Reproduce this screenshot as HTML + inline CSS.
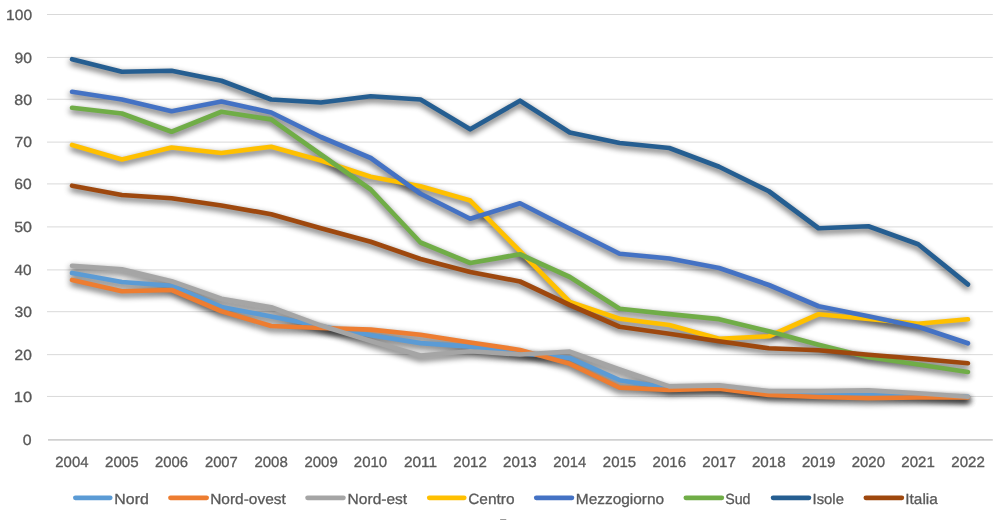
<!DOCTYPE html>
<html lang="it"><head><meta charset="utf-8"><title>Grafico</title>
<style>
html,body{margin:0;padding:0;background:#fff;}
body{width:1004px;height:520px;overflow:hidden;}
svg{display:block;}
text{font-family:"Liberation Sans",sans-serif;font-size:14.7px;fill:#595959;stroke:#595959;stroke-width:0.3px;text-rendering:geometricPrecision;}
</style></head><body>
<svg width="1004" height="520" viewBox="0 0 1004 520">
<defs>
<filter id="sh" filterUnits="userSpaceOnUse" x="0" y="0" width="1004" height="520" color-interpolation-filters="sRGB">
<feGaussianBlur in="SourceAlpha" stdDeviation="3.4" result="b"/>
<feOffset in="b" dx="0" dy="3" result="o"/>
<feComponentTransfer in="o" result="s"><feFuncA type="linear" slope="0.68"/></feComponentTransfer>
</filter>
</defs>
<rect width="1004" height="520" fill="#ffffff"/>
<g stroke="#D9D9D9" stroke-width="1">
<line x1="47" x2="992.8" y1="14.5" y2="14.5"/>
<line x1="47" x2="992.8" y1="57.45" y2="57.45"/>
<line x1="47" x2="992.8" y1="99.25" y2="99.25"/>
<line x1="47" x2="992.8" y1="142.1" y2="142.1"/>
<line x1="47" x2="992.8" y1="183.9" y2="183.9"/>
<line x1="47" x2="992.8" y1="226.9" y2="226.9"/>
<line x1="47" x2="992.8" y1="269.9" y2="269.9"/>
<line x1="47" x2="992.8" y1="311.7" y2="311.7"/>
<line x1="47" x2="992.8" y1="354.65" y2="354.65"/>
<line x1="47" x2="992.8" y1="396.45" y2="396.45"/>
</g>
<line x1="48" x2="992.8" y1="439.9" y2="439.9" stroke="#D0D0D0" stroke-width="1.8"/>
<g>
<text x="6.08" y="19.75" textLength="25.96" lengthAdjust="spacingAndGlyphs">100</text>
<text x="14.54" y="62.70" textLength="17.50" lengthAdjust="spacingAndGlyphs">90</text>
<text x="14.33" y="104.50" textLength="17.78" lengthAdjust="spacingAndGlyphs">80</text>
<text x="14.51" y="147.35" textLength="17.53" lengthAdjust="spacingAndGlyphs">70</text>
<text x="14.37" y="189.15" textLength="17.37" lengthAdjust="spacingAndGlyphs">60</text>
<text x="14.19" y="232.15" textLength="17.85" lengthAdjust="spacingAndGlyphs">50</text>
<text x="14.56" y="275.15" textLength="17.09" lengthAdjust="spacingAndGlyphs">40</text>
<text x="14.52" y="316.95" textLength="17.44" lengthAdjust="spacingAndGlyphs">30</text>
<text x="14.50" y="359.90" textLength="17.29" lengthAdjust="spacingAndGlyphs">20</text>
<text x="13.86" y="401.70" textLength="18.26" lengthAdjust="spacingAndGlyphs">10</text>
<text x="22.86" y="444.75" textLength="8.83" lengthAdjust="spacingAndGlyphs">0</text>
</g>
<g>
<text x="55.34" y="466.55" textLength="33.19" lengthAdjust="spacingAndGlyphs">2004</text>
<text x="105.02" y="466.55" textLength="33.69" lengthAdjust="spacingAndGlyphs">2005</text>
<text x="155.07" y="466.55" textLength="33.04" lengthAdjust="spacingAndGlyphs">2006</text>
<text x="204.90" y="466.55" textLength="32.98" lengthAdjust="spacingAndGlyphs">2007</text>
<text x="254.43" y="466.55" textLength="33.40" lengthAdjust="spacingAndGlyphs">2008</text>
<text x="304.44" y="466.55" textLength="33.29" lengthAdjust="spacingAndGlyphs">2009</text>
<text x="353.83" y="466.55" textLength="33.34" lengthAdjust="spacingAndGlyphs">2010</text>
<text x="403.93" y="466.55" textLength="33.24" lengthAdjust="spacingAndGlyphs">2011</text>
<text x="453.38" y="466.55" textLength="33.47" lengthAdjust="spacingAndGlyphs">2012</text>
<text x="503.13" y="466.55" textLength="33.60" lengthAdjust="spacingAndGlyphs">2013</text>
<text x="553.22" y="466.55" textLength="33.01" lengthAdjust="spacingAndGlyphs">2014</text>
<text x="602.82" y="466.55" textLength="33.40" lengthAdjust="spacingAndGlyphs">2015</text>
<text x="652.58" y="466.55" textLength="33.43" lengthAdjust="spacingAndGlyphs">2016</text>
<text x="702.37" y="466.55" textLength="33.54" lengthAdjust="spacingAndGlyphs">2017</text>
<text x="751.92" y="466.55" textLength="33.80" lengthAdjust="spacingAndGlyphs">2018</text>
<text x="802.00" y="466.55" textLength="33.37" lengthAdjust="spacingAndGlyphs">2019</text>
<text x="851.69" y="466.55" textLength="33.29" lengthAdjust="spacingAndGlyphs">2020</text>
<text x="901.32" y="466.55" textLength="33.44" lengthAdjust="spacingAndGlyphs">2021</text>
<text x="951.25" y="466.55" textLength="33.57" lengthAdjust="spacingAndGlyphs">2022</text>
</g>
<g fill="none" stroke-width="4.7" stroke-linecap="round" stroke-linejoin="round">
<path d="M72.1 273.00 L121.9 282.00 L171.6 285.75 L221.4 307.00 L271.2 316.50 L320.9 326.25 L370.7 335.25 L420.5 343.10 L470.2 346.60 L520.0 353.25 L569.8 358.00 L619.6 380.20 L669.3 388.00 L719.1 387.00 L768.9 393.00 L818.6 393.70 L868.4 394.00 L918.2 395.50 L967.9 396.90" stroke="#000" filter="url(#sh)"/>
<path d="M72.1 280.00 L121.9 291.25 L171.6 290.00 L221.4 311.25 L271.2 326.00 L320.9 328.00 L370.7 329.60 L420.5 334.75 L470.2 342.50 L520.0 350.00 L569.8 363.80 L619.6 387.70 L669.3 390.00 L719.1 388.60 L768.9 395.00 L818.6 397.00 L868.4 398.10 L918.2 397.50 L967.9 397.50" stroke="#000" filter="url(#sh)"/>
<path d="M72.1 265.75 L121.9 269.25 L171.6 281.25 L221.4 298.75 L271.2 307.25 L320.9 325.60 L370.7 341.00 L420.5 355.50 L470.2 351.25 L520.0 354.50 L569.8 351.70 L619.6 369.40 L669.3 386.40 L719.1 385.30 L768.9 391.20 L818.6 391.20 L868.4 390.40 L918.2 393.25 L967.9 396.75" stroke="#000" filter="url(#sh)"/>
<path d="M72.1 145.00 L121.9 159.50 L171.6 147.50 L221.4 153.00 L271.2 146.75 L320.9 160.50 L370.7 176.75 L420.5 186.25 L470.2 200.60 L520.0 251.25 L569.8 302.00 L619.6 318.75 L669.3 325.00 L719.1 338.75 L768.9 336.25 L818.6 314.25 L868.4 319.00 L918.2 323.75 L967.9 319.25" stroke="#000" filter="url(#sh)"/>
<path d="M72.1 91.75 L121.9 99.50 L171.6 111.25 L221.4 101.50 L271.2 112.50 L320.9 137.00 L370.7 158.00 L420.5 193.75 L470.2 218.75 L520.0 203.25 L569.8 228.75 L619.6 253.75 L669.3 258.50 L719.1 268.00 L768.9 285.00 L818.6 306.25 L868.4 316.25 L918.2 326.75 L967.9 343.25" stroke="#000" filter="url(#sh)"/>
<path d="M72.1 107.75 L121.9 113.50 L171.6 131.75 L221.4 111.75 L271.2 119.40 L320.9 154.50 L370.7 189.50 L420.5 242.50 L470.2 263.00 L520.0 254.25 L569.8 277.00 L619.6 308.75 L669.3 314.20 L719.1 319.20 L768.9 331.25 L818.6 344.75 L868.4 357.25 L918.2 364.50 L967.9 372.00" stroke="#000" filter="url(#sh)"/>
<path d="M72.1 59.25 L121.9 71.75 L171.6 70.75 L221.4 80.75 L271.2 99.50 L320.9 102.50 L370.7 96.25 L420.5 99.50 L470.2 129.25 L520.0 100.75 L569.8 132.50 L619.6 143.00 L669.3 148.00 L719.1 166.75 L768.9 191.25 L818.6 228.25 L868.4 226.25 L918.2 244.25 L967.9 284.40" stroke="#000" filter="url(#sh)"/>
<path d="M72.1 185.75 L121.9 195.00 L171.6 198.25 L221.4 205.50 L271.2 214.20 L320.9 228.25 L370.7 241.75 L420.5 259.00 L470.2 272.00 L520.0 281.50 L569.8 305.00 L619.6 326.75 L669.3 333.75 L719.1 341.25 L768.9 348.25 L818.6 350.25 L868.4 354.75 L918.2 358.75 L967.9 363.25" stroke="#000" filter="url(#sh)"/>
<path d="M72.1 273.00 L121.9 282.00 L171.6 285.75 L221.4 307.00 L271.2 316.50 L320.9 326.25 L370.7 335.25 L420.5 343.10 L470.2 346.60 L520.0 353.25 L569.8 358.00 L619.6 380.20 L669.3 388.00 L719.1 387.00 L768.9 393.00 L818.6 393.70 L868.4 394.00 L918.2 395.50 L967.9 396.90" stroke="#5B9BD5"/>
<path d="M72.1 280.00 L121.9 291.25 L171.6 290.00 L221.4 311.25 L271.2 326.00 L320.9 328.00 L370.7 329.60 L420.5 334.75 L470.2 342.50 L520.0 350.00 L569.8 363.80 L619.6 387.70 L669.3 390.00 L719.1 388.60 L768.9 395.00 L818.6 397.00 L868.4 398.10 L918.2 397.50 L967.9 397.50" stroke="#ED7D31"/>
<path d="M72.1 265.75 L121.9 269.25 L171.6 281.25 L221.4 298.75 L271.2 307.25 L320.9 325.60 L370.7 341.00 L420.5 355.50 L470.2 351.25 L520.0 354.50 L569.8 351.70 L619.6 369.40 L669.3 386.40 L719.1 385.30 L768.9 391.20 L818.6 391.20 L868.4 390.40 L918.2 393.25 L967.9 396.75" stroke="#A5A5A5"/>
<path d="M72.1 145.00 L121.9 159.50 L171.6 147.50 L221.4 153.00 L271.2 146.75 L320.9 160.50 L370.7 176.75 L420.5 186.25 L470.2 200.60 L520.0 251.25 L569.8 302.00 L619.6 318.75 L669.3 325.00 L719.1 338.75 L768.9 336.25 L818.6 314.25 L868.4 319.00 L918.2 323.75 L967.9 319.25" stroke="#FFC000"/>
<path d="M72.1 91.75 L121.9 99.50 L171.6 111.25 L221.4 101.50 L271.2 112.50 L320.9 137.00 L370.7 158.00 L420.5 193.75 L470.2 218.75 L520.0 203.25 L569.8 228.75 L619.6 253.75 L669.3 258.50 L719.1 268.00 L768.9 285.00 L818.6 306.25 L868.4 316.25 L918.2 326.75 L967.9 343.25" stroke="#4472C4"/>
<path d="M72.1 107.75 L121.9 113.50 L171.6 131.75 L221.4 111.75 L271.2 119.40 L320.9 154.50 L370.7 189.50 L420.5 242.50 L470.2 263.00 L520.0 254.25 L569.8 277.00 L619.6 308.75 L669.3 314.20 L719.1 319.20 L768.9 331.25 L818.6 344.75 L868.4 357.25 L918.2 364.50 L967.9 372.00" stroke="#70AD47"/>
<path d="M72.1 59.25 L121.9 71.75 L171.6 70.75 L221.4 80.75 L271.2 99.50 L320.9 102.50 L370.7 96.25 L420.5 99.50 L470.2 129.25 L520.0 100.75 L569.8 132.50 L619.6 143.00 L669.3 148.00 L719.1 166.75 L768.9 191.25 L818.6 228.25 L868.4 226.25 L918.2 244.25 L967.9 284.40" stroke="#255E91"/>
<path d="M72.1 185.75 L121.9 195.00 L171.6 198.25 L221.4 205.50 L271.2 214.20 L320.9 228.25 L370.7 241.75 L420.5 259.00 L470.2 272.00 L520.0 281.50 L569.8 305.00 L619.6 326.75 L669.3 333.75 L719.1 341.25 L768.9 348.25 L818.6 350.25 L868.4 354.75 L918.2 358.75 L967.9 363.25" stroke="#9E480E"/>
</g>
<g fill="none" stroke-width="4.7" stroke-linecap="round">
<line x1="75.35" x2="110.25" y1="497.85" y2="497.85" stroke="#5B9BD5"/>
<line x1="170.45" x2="206.65" y1="497.85" y2="497.85" stroke="#ED7D31"/>
<line x1="307.55" x2="343.45" y1="497.85" y2="497.85" stroke="#A5A5A5"/>
<line x1="429.25" x2="464.25" y1="497.85" y2="497.85" stroke="#FFC000"/>
<line x1="536.25" x2="571.95" y1="497.85" y2="497.85" stroke="#4472C4"/>
<line x1="685.85" x2="721.85" y1="497.85" y2="497.85" stroke="#70AD47"/>
<line x1="773.05" x2="808.95" y1="497.85" y2="497.85" stroke="#255E91"/>
<line x1="865.85" x2="901.85" y1="497.85" y2="497.85" stroke="#9E480E"/>
</g>
<g>
<text x="114.32" y="503.75" textLength="34.46" lengthAdjust="spacingAndGlyphs">Nord</text>
<text x="210.21" y="503.75" textLength="75.60" lengthAdjust="spacingAndGlyphs">Nord-ovest</text>
<text x="347.61" y="503.75" textLength="59.56" lengthAdjust="spacingAndGlyphs">Nord-est</text>
<text x="468.19" y="503.75" textLength="46.39" lengthAdjust="spacingAndGlyphs">Centro</text>
<text x="575.77" y="503.75" textLength="88.44" lengthAdjust="spacingAndGlyphs">Mezzogiorno</text>
<text x="725.18" y="503.75" textLength="25.33" lengthAdjust="spacingAndGlyphs">Sud</text>
<text x="812.56" y="503.75" textLength="31.36" lengthAdjust="spacingAndGlyphs">Isole</text>
<text x="905.28" y="503.75" textLength="32.54" lengthAdjust="spacingAndGlyphs">Italia</text>
</g>
<rect x="500" y="518.9" width="6.4" height="1.2" rx="0.6" fill="#9a9a9a"/>
</svg>
</body></html>
